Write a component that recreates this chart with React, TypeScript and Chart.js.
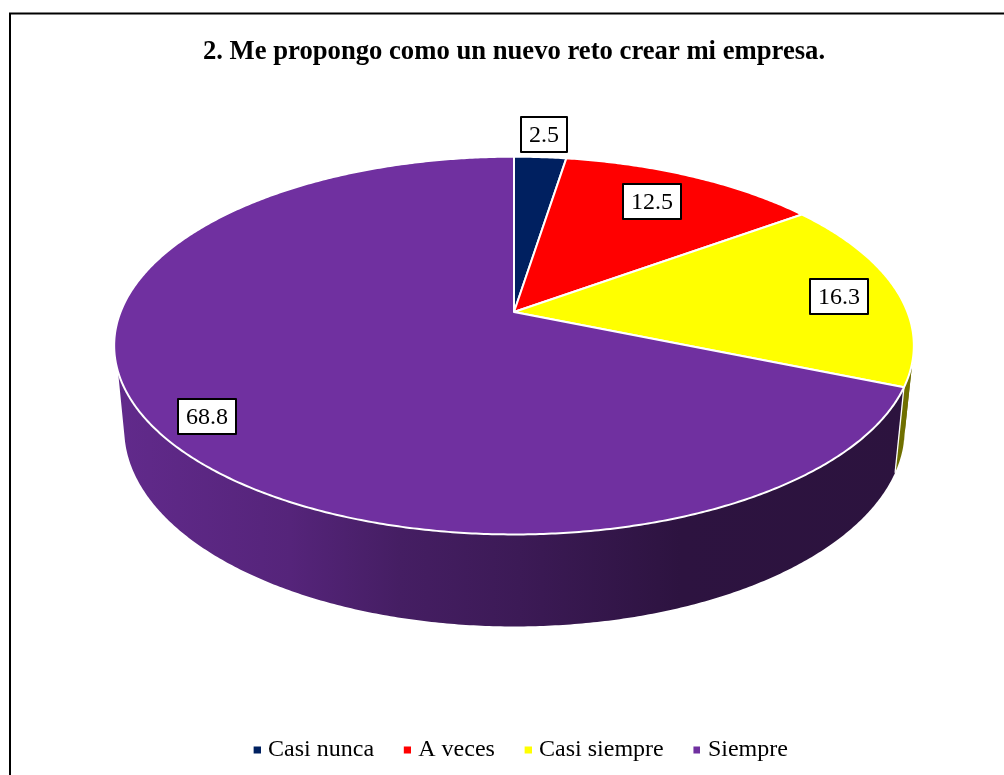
import React, { useEffect, useRef } from "react";
import { Chart, registerables } from "chart.js";

Chart.register(...registerables);

const TITLE = "2. Me propongo como un nuevo reto crear mi empresa.";
const categories = ["Casi nunca", "A veces", "Casi siempre", "Siempre"];
const values = [2.5, 12.5, 16.3, 68.8];
const colors = ["#002060", "#FF0000", "#FFFF00", "#7030A0"];

const FONT = "'Liberation Serif', 'Times New Roman', serif";

// Perspective of the tilted disc, in units of the pie radius
const APEX_Y = 235.6; // below the chart area's top
const RX = 392.6 / 314.5;
const RY = 182.5 / 314.5;
const TILT = 0.1777;
// Bottom face of the disc relative to the top face
const BOTTOM = { dx: 0.5, dy: 82, sx: 0.976, sy: 1.045 };
const deg = (d: number) => (d * Math.PI) / 180 - Math.PI / 2;
const WALL_SILHOUETTE_RIGHT = deg(105);
const WALL_END_TOP = deg(252);
const WALL_END_BOTTOM = deg(257);
const WALL_SHADES: [number, number][] = [
  [120, 0.87], [290, 0.76], [400, 0.62], [520, 0.54], [680, 0.4], [913, 0.39],
];
const YELLOW_WALL_BOOST = 1.12;
// Label anchors: radial fraction of the slice mid-angle plus a nudge
const LABEL_PLACES = [
  { r: 1.179, dx: 0, dy: 1 },
  { r: 0.76, dx: -1.5, dy: -3.5 },
  { r: 0.84, dx: 2, dy: 2.6 },
  { r: 0.86, dx: 1, dy: 9.5 },
];

const shade = (hex: string, f: number) => {
  const n = parseInt(hex.slice(1), 16);
  const c = [(n >> 16) & 255, (n >> 8) & 255, n & 255].map((v) => Math.min(255, Math.round(v * f)));
  return `rgb(${c[0]},${c[1]},${c[2]})`;
};

const markerImage = (color: string) => {
  const c = document.createElement("canvas");
  c.width = 12;
  c.height = 8;
  const g = c.getContext("2d")!;
  g.fillStyle = color;
  g.fillRect(5, 0.5, 7, 7);
  return c;
};

const tiltedPie = {
  id: "tiltedPie",
  afterLayout(chart: any) {
    chart.legend.left += 13;
  },
  beforeDraw(chart: any) {
    const ctx = chart.ctx;
    ctx.save();
    ctx.strokeStyle = "#000";
    ctx.lineWidth = 2;
    ctx.beginPath();
    ctx.moveTo(10, chart.height);
    ctx.lineTo(10, 13.5);
    ctx.lineTo(chart.width, 13.5);
    ctx.stroke();
    ctx.restore();
  },
  beforeDatasetsDraw(chart: any) {
    const ctx = chart.ctx;
    const arcs = chart.getDatasetMeta(0).data;
    const ax = arcs[0].x;
    const ay = chart.chartArea.top + APEX_Y;
    const R = arcs[0].outerRadius;
    const top = (a: number, f = 1) => {
      const u = Math.cos(a) * f;
      const v = Math.sin(a) * f;
      const den = 1 - TILT * v;
      return { x: ax + (RX * R * u) / den, y: ay + (RY * R * v) / den };
    };
    const bottom = (a: number) => {
      const p = top(a);
      return {
        x: ax + BOTTOM.dx + BOTTOM.sx * (p.x - ax),
        y: ay + BOTTOM.dy + BOTTOM.sy * (p.y - ay),
      };
    };
    const sweep = (a0: number, a1: number, fn: (a: number) => { x: number; y: number }) => {
      const n = Math.max(2, Math.ceil(Math.abs(a1 - a0) * 120));
      for (let i = 0; i <= n; i++) {
        const p = fn(a0 + ((a1 - a0) * i) / n);
        ctx.lineTo(p.x, p.y);
      }
    };

    ctx.save();
    ctx.lineJoin = "round";
    // side wall: one band per slice, split at the right silhouette
    arcs.forEach((arc: any, i: number) => {
      if (arc.startAngle >= WALL_END_TOP) return;
      const x0 = WALL_SHADES[0][0];
      const span = WALL_SHADES[WALL_SHADES.length - 1][0] - x0;
      const grad = ctx.createLinearGradient(x0, 0, x0 + span, 0);
      const boost = colors[i] === "#FFFF00" ? YELLOW_WALL_BOOST : 1;
      WALL_SHADES.forEach(([x, f]) => grad.addColorStop((x - x0) / span, shade(colors[i], f * boost)));
      const endTop = Math.min(arc.endAngle, WALL_END_TOP);
      const endBot = Math.min(arc.endAngle, WALL_END_BOTTOM);
      const bands: [number, number, number][] =
        arc.startAngle < WALL_SILHOUETTE_RIGHT && endTop > WALL_SILHOUETTE_RIGHT
          ? [
              [arc.startAngle, WALL_SILHOUETTE_RIGHT, WALL_SILHOUETTE_RIGHT],
              [WALL_SILHOUETTE_RIGHT, endTop, endBot],
            ]
          : [[arc.startAngle, endTop, endBot]];
      ctx.fillStyle = grad;
      bands.forEach(([a0, a1, b1]) => {
        ctx.beginPath();
        sweep(a0, a1, top);
        sweep(b1, a0, bottom);
        ctx.closePath();
        ctx.fill();
      });
      // white edge where this slice's wall begins
      const ps = top(arc.startAngle);
      const qs = bottom(arc.startAngle);
      ctx.beginPath();
      ctx.moveTo(ps.x, ps.y);
      ctx.lineTo(qs.x, qs.y);
      ctx.strokeStyle = "#fff";
      ctx.lineWidth = 1.3;
      ctx.stroke();
    });
    // top face
    arcs.forEach((arc: any, i: number) => {
      ctx.beginPath();
      ctx.moveTo(ax, ay);
      sweep(arc.startAngle, arc.endAngle, top);
      ctx.closePath();
      ctx.fillStyle = colors[i];
      ctx.fill();
      ctx.strokeStyle = "#fff";
      ctx.lineWidth = 2;
      ctx.stroke();
    });
    // value labels
    ctx.font = `24px ${FONT}`;
    ctx.textAlign = "center";
    ctx.textBaseline = "middle";
    arcs.forEach((arc: any, i: number) => {
      const mid = (arc.startAngle + arc.endAngle) / 2;
      const place = LABEL_PLACES[i];
      const p = top(mid, place.r);
      const cx = Math.round(p.x + place.dx);
      const cy = Math.round(p.y + place.dy);
      const text = values[i].toFixed(1);
      const w = Math.round(ctx.measureText(text).width) + 16;
      const h = 35;
      ctx.fillStyle = "#fff";
      ctx.strokeStyle = "#000";
      ctx.lineWidth = 2;
      const left = cx - Math.round(w / 2);
      const up = cy - Math.round(h / 2);
      ctx.fillRect(left, up, w, h);
      ctx.strokeRect(left, up, w, h);
      ctx.fillStyle = "#000";
      ctx.fillText(text, left + w / 2, up + h / 2 + 1);
    });
    ctx.restore();
    return false;
  },
};

export default function App() {
  const ref = useRef<HTMLCanvasElement>(null);
  useEffect(() => {
    const chart = new Chart(ref.current!, {
      type: "pie",
      data: {
        labels: categories,
        datasets: [{ data: values, backgroundColor: colors, borderColor: "#fff" }],
      },
      options: {
        animation: false,
        responsive: false,
        layout: { padding: { left: 24, bottom: 3 } },
        plugins: {
          tooltip: { enabled: false },
          title: {
            display: true,
            text: TITLE,
            color: "#000",
            font: { family: FONT, size: 26.67, weight: "bold" },
            padding: { top: 35.8, bottom: 8.6 },
          },
          legend: {
            position: "bottom",
            labels: {
              color: "#000",
              font: { family: FONT, size: 24 },
              usePointStyle: true,
              pointStyleWidth: 3,
              boxHeight: 8,
              padding: 29.2,
              generateLabels(c: any) {
                return Chart.overrides.pie.plugins.legend.labels
                  .generateLabels(c)
                  .map((it: any, i: number) => ({ ...it, pointStyle: markerImage(colors[i]) }));
              },
            },
          },
        },
      },
      plugins: [tiltedPie],
    } as any);
    return () => chart.destroy();
  }, []);
  return (
    <div style={{ position: "fixed", left: 0, top: 0, width: 1004, height: 775, overflow: "hidden", background: "#fff" }}>
      <canvas ref={ref} width={1004} height={775} style={{ display: "block" }} />
    </div>
  );
}
